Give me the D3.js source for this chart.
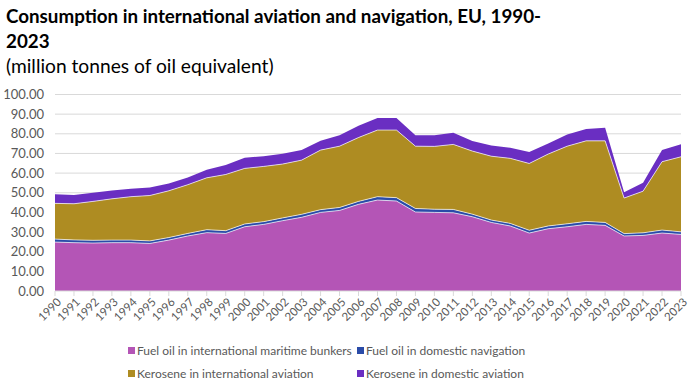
<!DOCTYPE html>
<html>
<head>
<meta charset="utf-8">
<script src="https://cdn.jsdelivr.net/npm/d3@7"></script>
<style>
  body { margin: 0; background: #fff; }
  svg text { font-family: Lato, "Open Sans", sans-serif; }
</style>
</head>
<body>
<div id="chart"></div>
<script>
const years = d3.range(1990, 2024);

const maritime = [24.9, 24.6, 24.4, 24.6, 24.6, 24.2, 25.9, 28.0, 29.7, 29.3,
  32.7, 33.9, 35.8, 37.5, 40.0, 41.0, 44.1, 46.3, 45.8, 40.2,
  40.0, 39.8, 37.8, 34.9, 33.1, 29.5, 31.7, 32.7, 33.9, 33.4,
  28.0, 28.3, 29.5, 28.8];
const domNavigation = [1.5, 1.4, 1.4, 1.3, 1.3, 1.3, 1.3, 1.3, 1.5, 1.4,
  1.4, 1.4, 1.4, 1.5, 1.4, 1.5, 1.5, 1.7, 1.7, 1.8,
  1.6, 1.7, 1.3, 1.2, 1.3, 1.4, 1.4, 1.5, 1.5, 1.5,
  1.2, 1.3, 1.5, 1.3];
const intlAviation = [18.2, 18.4, 19.8, 21.0, 22.1, 23.1, 23.8, 24.8, 26.4, 28.6,
  28.3, 28.1, 27.4, 27.6, 30.3, 31.2, 32.5, 33.9, 34.4, 31.7,
  32.0, 33.1, 32.1, 32.5, 33.1, 34.0, 36.6, 39.5, 41.0, 41.5,
  18.1, 21.2, 34.8, 38.2];
const domAviation = [4.6, 4.4, 4.4, 4.3, 4.0, 4.1, 3.7, 3.7, 4.1, 4.8,
  5.4, 5.2, 5.2, 5.1, 4.7, 5.5, 6.0, 6.2, 6.2, 5.6,
  5.7, 5.9, 5.1, 5.5, 5.4, 5.8, 5.4, 6.0, 6.1, 6.7,
  2.9, 4.3, 5.9, 6.4];

const seriesNames = [
  "Fuel oil in international maritime bunkers",
  "Fuel oil in domestic navigation",
  "Kerosene in international aviation",
  "Kerosene in domestic aviation"
];
const seriesColors = ["#b455b6", "#2a4ba8", "#ae8c22", "#6a2ec2"];
const yTicks = [0, 10, 20, 30, 40, 50, 60, 70, 80, 90, 100];

const width = 700, height = 387;
const margin = { top: 94.5, right: 19, bottom: 96, left: 55 };
const innerW = width - margin.left - margin.right;
const innerH = height - margin.top - margin.bottom;

const svg = d3.select("#chart").append("svg")
  .attr("width", width)
  .attr("height", height);

// titulo
svg.append("text").attr("x", 6).attr("y", 23)
  .style("font-size", "18.8px").style("font-weight", "bold").style("fill", "#000")
  .text("Consumption in international aviation and navigation, EU, 1990-");
svg.append("text").attr("x", 6).attr("y", 48)
  .style("font-size", "18.8px").style("font-weight", "bold").style("fill", "#000")
  .text("2023");
svg.append("text").attr("x", 6).attr("y", 73)
  .style("font-size", "19.2px").style("fill", "#000")
  .text("(million tonnes of oil equivalent)");

const g = svg.append("g")
  .attr("transform", `translate(${margin.left},${margin.top})`);

const table = years.map((yr, i) => ({
  year: yr,
  s0: maritime[i], s1: domNavigation[i], s2: intlAviation[i], s3: domAviation[i]
}));
const stack = d3.stack().keys(["s0", "s1", "s2", "s3"]);
const layers = stack(table);

const x = d3.scaleLinear().domain([1990, 2023]).range([0, innerW]);
const y = d3.scaleLinear().domain([0, 100]).range([innerH, 0]);

// grid
g.selectAll(".grid").data(yTicks.slice(1)).enter().append("line")
  .attr("x1", 0).attr("x2", innerW)
  .attr("y1", d => y(d)).attr("y2", d => y(d))
  .attr("stroke", "#d9d9d9").attr("stroke-width", 1);

g.selectAll(".ylab").data(yTicks).enter().append("text")
  .attr("x", -11).attr("y", d => y(d)).attr("dy", "0.35em")
  .attr("text-anchor", "end")
  .style("font-size", "13px").style("fill", "#595959")
  .text(d => d.toFixed(2));

const area = d3.area()
  .x(d => x(d.data.year))
  .y0(d => y(d[0]))
  .y1(d => y(d[1]));

g.selectAll(".layer").data(layers).enter().append("path")
  .attr("d", area)
  .attr("fill", (d, i) => seriesColors[i]);

const topLine = d3.line().x(d => x(d.data.year)).y(d => y(d[1]));
g.selectAll(".edge").data(layers.slice(0, 3)).enter().append("path")
  .attr("d", topLine)
  .attr("fill", "none")
  .attr("stroke", "#fff")
  .attr("stroke-width", 0.8)
  .attr("stroke-opacity", 0.85);

// eje x
g.append("line").attr("x1", 0).attr("x2", innerW)
  .attr("y1", innerH).attr("y2", innerH)
  .attr("stroke", "#d9d9d9");
g.selectAll(".tick").data(years).enter().append("line")
  .attr("x1", d => x(d)).attr("x2", d => x(d))
  .attr("y1", innerH).attr("y2", innerH + 5)
  .attr("stroke", "#d9d9d9");
g.selectAll(".xlab").data(years).enter().append("text")
  .attr("transform", d => `translate(${x(d) + 4},${innerH + 9}) rotate(-45)`)
  .attr("text-anchor", "end")
  .attr("dy", "0.35em")
  .style("font-size", "11.5px").style("fill", "#595959")
  .text(d => d);

// leyenda
const legendPos = [[128, 351], [357, 351], [128, 374], [357, 374]];
const legend = svg.selectAll(".leg").data(seriesNames).enter().append("g")
  .attr("transform", (d, i) => `translate(${legendPos[i][0]},${legendPos[i][1]})`);
legend.append("rect").attr("x", 0).attr("y", -4).attr("width", 7).attr("height", 7)
  .attr("fill", (d, i) => seriesColors[i]);
legend.append("text").attr("x", 9).attr("y", 0).attr("dy", "0.35em")
  .style("font-size", "12px").style("fill", "#595959")
  .text(d => d);
</script>
</body>
</html>
